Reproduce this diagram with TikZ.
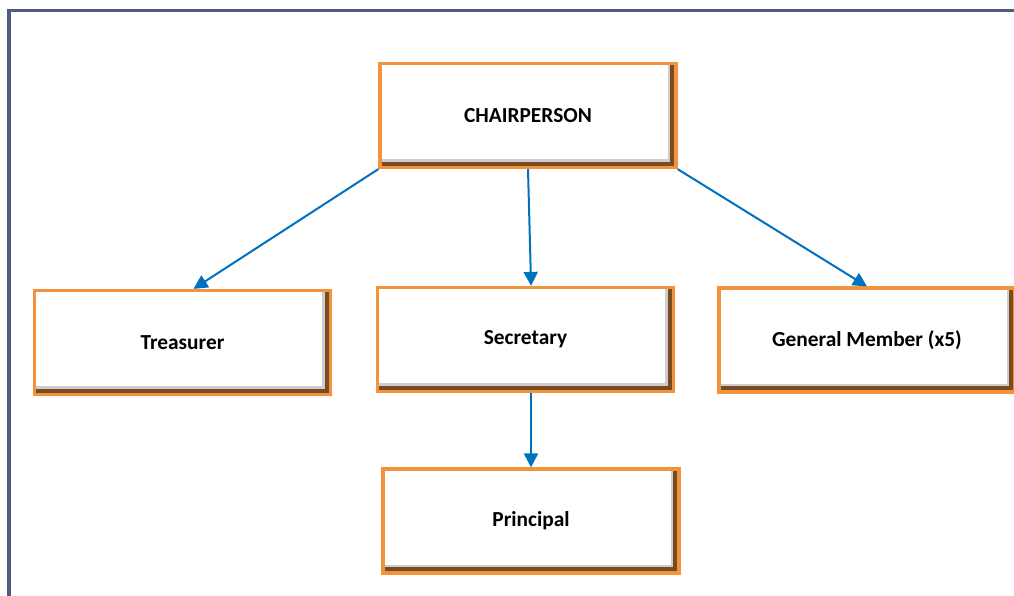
\documentclass[tikz,border=0pt]{standalone}
\usepackage{fontspec}
\setmainfont{Carlito}
\usetikzlibrary{positioning, arrows.meta}
\definecolor{boxorange}{RGB}{242,148,60}
\definecolor{boxbrown}{RGB}{122,74,32}
\definecolor{boxshade}{RGB}{205,205,205}
\definecolor{arrowblue}{RGB}{0,112,192}
\definecolor{framegray}{RGB}{79,91,128}

\begin{document}
\begin{tikzpicture}[x=0.025cm, y=-0.025cm,
	b/.style={rectangle, fill=white, draw=boxorange, line width=0.08cm,
		minimum width=7.4cm, minimum height=2.6cm,
		font=\fontsize{15.2}{18}\selectfont\bfseries,
		path picture={
			\draw[boxshade, line width=0.42cm]
			(path picture bounding box.south west) -- (path picture bounding box.south east)
			-- (path picture bounding box.north east);
			\draw[boxbrown, line width=0.3cm]
			(path picture bounding box.south west) -- (path picture bounding box.south east)
			-- (path picture bounding box.north east);}},
	a/.style={-{Triangle[length=0.35cm, width=0.35cm]}, arrowblue, line width=0.05cm}]
	\useasboundingbox (0,0) rectangle (1014,595);
	\draw[framegray, line width=0.075cm] (1016,10) -- (9,10) -- (9,597);

	\node [b] (chair) at (528,115.5) {CHAIRPERSON};
	\node [b] (treas) at (182.5,342.5) {Treasurer};
	\node [b] (sec)   at (525.5,339.5) {Secretary};
	\node [b] (gen)   at (867,340) {General Member (x5)};
	\node [b] (prin)  at (531,521) {Principal};

	\path[a] (chair.south west) edge ([xshift=0.275cm]treas.north);
	\path[a] (chair.south) edge ([xshift=0.14cm]sec.north);
	\path[a] (chair.south east) edge (gen.north);
	\path[a] (sec.south -| prin.north) edge (prin.north);
\end{tikzpicture}
\end{document}
